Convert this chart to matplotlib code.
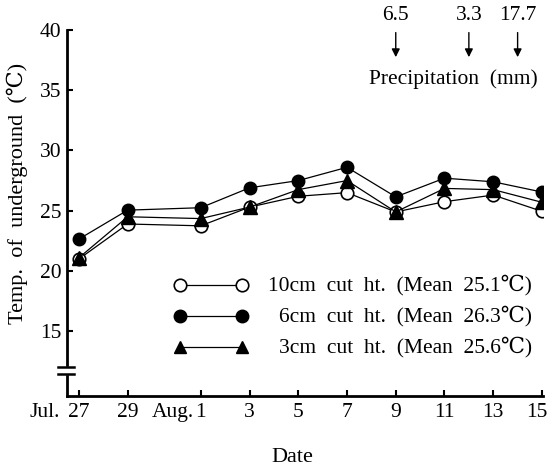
import matplotlib
matplotlib.use("Agg")
import matplotlib.pyplot as plt
from matplotlib.transforms import offset_copy

plt.rcParams["font.family"] = ["Liberation Serif", "DejaVu Serif"]

# Day offsets from Jul. 27
days = [0, 2, 5, 7, 9, 11, 13, 15, 17, 19]
tick_labels = ["27", "29", "1", "3", "5", "7", "9", "11", "13", "15"]

temp_10cm = [21.0, 23.9, 23.75, 25.3, 26.2, 26.5, 24.9, 25.75, 26.3, 24.95]
temp_6cm = [22.65, 25.05, 25.25, 26.9, 27.5, 28.6, 26.15, 27.7, 27.4, 26.55]
temp_3cm = [21.1, 24.5, 24.35, 25.3, 26.75, 27.5, 24.9, 26.85, 26.75, 25.7]

legend_labels = [
    "10cm  cut  ht.  (Mean  25.1℃)",
    "6cm  cut  ht.  (Mean  26.3℃)",
    "3cm  cut  ht.  (Mean  25.6℃)",
]

precip_days = [13, 16, 18]
precip_mm = ["6.5", "3.3", "17.7"]

FS = 15.5

fig = plt.figure(figsize=(5.49, 4.73), dpi=100)
ax = fig.add_axes([0.122, 0.163, 0.867, 0.774])
ax.set_xlim(-0.49, 19.04)
ax.set_ylim(9.65, 40)

lw = 0.9
ms = 9
ax.plot(days, temp_10cm, color="black", lw=lw, marker="o", ms=ms,
        mfc="white", mec="black", mew=1.2, zorder=3)
ax.plot(days, temp_3cm, color="black", lw=lw, marker="^", ms=ms + 0.5,
        mfc="black", mec="black", zorder=4)
ax.plot(days, temp_6cm, color="black", lw=lw, marker="o", ms=ms,
        mfc="black", mec="black", zorder=5)

# Hand-drawn style legend
leg_x = [4.14, 6.69]
leg_y = [18.84, 16.27, 13.7]
styles = [dict(marker="o", mfc="white", mew=1.2),
          dict(marker="o", mfc="black"),
          dict(marker="^", mfc="black")]
for yy, st, lab in zip(leg_y, styles, legend_labels):
    ax.plot(leg_x, [yy, yy], color="black", lw=lw, ms=ms, mec="black", **st)
    ax.text(18.6, yy, lab, ha="right", va="center", fontsize=FS)

# Axes styling
for side in ("top", "right"):
    ax.spines[side].set_visible(False)
ax.spines["left"].set_linewidth(2.0)
ax.spines["bottom"].set_linewidth(2.0)
ax.set_yticks([15, 20, 25, 30, 35, 40])
ax.set_xticks(days)
# last date label is placed by hand so it stays inside the figure
ax.set_xticklabels(tick_labels[:-1] + [""])
ax.tick_params(axis="both", direction="in", length=4, width=1.5,
               labelsize=FS)
ax.tick_params(axis="x", pad=5)
ax.tick_params(axis="y", pad=4)

xt = ax.get_xaxis_transform()
lab_y = -7.0 / 366
ax.text(days[-1], lab_y, tick_labels[-1], ha="right", va="top", fontsize=FS,
        transform=offset_copy(xt, fig=fig, x=6, units="dots"))

# Month prefixes next to the first tick of each month
ax.text(-0.78, lab_y, "Jul.", transform=xt, ha="right", va="top", fontsize=FS)
ax.text(4.72, lab_y, "Aug.", transform=xt, ha="right", va="top", fontsize=FS)

# Axis break marks on the y axis
brk_y = [12.05, 11.5]
ax.fill_between([-0.7, -0.2], brk_y[1], brk_y[0], color="white",
                clip_on=False, zorder=6)
for by in brk_y:
    ax.plot([-0.87, -0.22], [by, by], color="black", lw=1.8,
            clip_on=False, zorder=7)

# Precipitation arrows
for d, val in zip(precip_days, precip_mm):
    ax.annotate("", xy=(d, 37.5), xytext=(d, 40.0),
                arrowprops=dict(arrowstyle="-|>", color="black", lw=1.0,
                                mutation_scale=12),
                annotation_clip=False)
    ax.text(d, 41.2, val, ha="center", va="center", fontsize=FS,
            clip_on=False)
ax.text(15.35, 35.9, "Precipitation  (mm)", ha="center", va="center",
        fontsize=FS)

fig.text(0.032, 0.59, "Temp.  of  underground  (℃)", rotation=90,
         ha="center", va="center", fontsize=16)
fig.text(0.533, 0.032, "Date", ha="center", va="center", fontsize=16)

fig.savefig("out.png", dpi=100)
